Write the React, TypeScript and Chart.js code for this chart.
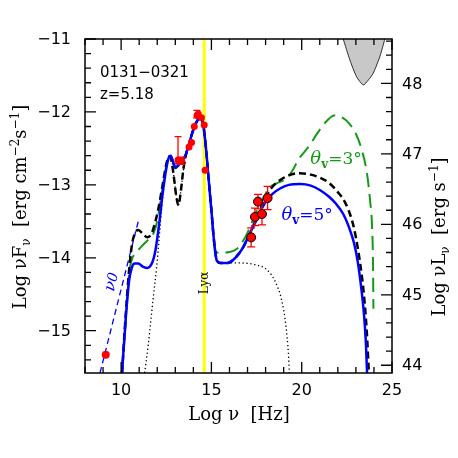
import React, { useEffect, useRef } from 'react';
import { Chart, registerables } from 'chart.js';
Chart.register(...registerables);

type P = [number, number];

// axis ranges and ticks
const xRange: P = [8, 25];
const yRange: P = [-15.58, -11];
const y2Range: P = [43.89, 48.63];
const xTicks = [10, 15, 20, 25];
const yTicks = [-11, -12, -13, -14, -15];
const y2Ticks = [44, 45, 46, 47, 48];
const xMinorStep = 1;
const yMinorStep = 0.2;
const fmt = (v: number) => (v < 0 ? '\u2212' + Math.abs(v) : String(v));

// texts
const sourceName = '0131\u22120321';
const redshiftText = 'z=5.18';
const lyaText = 'Ly\u03b1';
const lyaNu = 14.6;

// model curves [log nu, log nuFnu]
const blueModel: P[] = [
  [10.05, -15.58], [10.25, -14.85], [10.45, -14.3], [10.6, -14.13], [10.75, -14.08], [10.95, -14.08],
  [11.2, -14.12], [11.45, -14.14], [11.7, -14.08], [11.9, -13.9], [12.1, -13.55], [12.3, -13.12],
  [12.5, -12.78], [12.65, -12.62], [12.75, -12.6], [12.88, -12.68], [13.0, -12.77], [13.15, -12.74],
  [13.35, -12.67], [13.55, -12.6], [13.75, -12.45], [13.95, -12.28], [14.15, -12.15], [14.35, -12.09],
  [14.45, -12.1], [14.55, -12.18], [14.7, -12.5], [14.85, -12.93], [15.0, -13.35], [15.15, -13.78],
  [15.3, -14.04], [15.5, -14.07], [15.9, -14.07], [16.2, -14.03], [16.5, -13.95], [16.77, -13.85],
  [17.14, -13.66], [17.5, -13.48], [17.8, -13.32], [18.1, -13.2], [18.4, -13.12], [18.8, -13.05],
  [19.3, -13.0], [19.9, -12.99], [20.5, -13.01], [21.0, -13.07], [21.5, -13.16], [21.9, -13.26],
  [22.3, -13.4], [22.6, -13.57], [22.9, -13.8], [23.1, -14.05], [23.3, -14.42], [23.45, -14.78],
  [23.55, -15.15], [23.62, -15.58],
];
const blackModel: P[] = [
  [10.05, -15.58], [10.25, -14.8], [10.45, -14.15], [10.6, -13.82], [10.75, -13.67], [10.95, -13.62],
  [11.2, -13.67], [11.45, -13.72], [11.7, -13.66], [11.9, -13.5], [12.1, -13.28], [12.3, -13.0],
  [12.5, -12.72], [12.65, -12.61], [12.75, -12.63], [12.9, -12.85], [13.05, -13.15], [13.17, -13.28],
  [13.3, -13.1], [13.45, -12.78], [13.6, -12.58], [13.75, -12.45], [13.95, -12.28], [14.15, -12.15],
  [14.35, -12.09], [14.45, -12.1], [14.55, -12.18], [14.7, -12.5], [14.85, -12.93], [15.0, -13.35],
  [15.15, -13.78], [15.3, -14.04], [15.5, -14.07], [15.9, -14.07], [16.2, -14.03], [16.5, -13.95],
  [16.77, -13.85], [17.14, -13.66], [17.5, -13.46], [17.8, -13.28], [18.1, -13.12], [18.4, -13.02],
  [18.9, -12.92], [19.4, -12.86], [19.9, -12.84], [20.5, -12.86], [21.0, -12.9], [21.5, -12.97],
  [22.0, -13.1], [22.4, -13.24], [22.8, -13.5], [23.0, -13.72], [23.25, -14.1], [23.45, -14.52],
  [23.6, -15.0], [23.72, -15.58],
];
const greenModel: P[] = [
  [10.05, -15.58], [10.25, -14.9], [10.45, -14.2], [10.6, -14.02], [10.8, -13.93], [11.0, -13.88],
  [11.3, -13.8], [11.55, -13.74], [11.8, -13.66], [12.0, -13.5], [12.2, -13.2], [12.4, -12.88],
  [12.55, -12.68], [12.7, -12.6], [12.8, -12.63], [12.95, -12.74], [13.15, -12.72], [13.35, -12.66],
  [13.55, -12.6], [13.75, -12.45], [13.95, -12.28], [14.15, -12.15], [14.35, -12.09], [14.45, -12.1],
  [14.55, -12.18], [14.7, -12.5], [14.85, -12.93], [15.0, -13.35], [15.12, -13.75], [15.22, -13.92],
  [15.5, -13.93], [16.0, -13.92], [16.4, -13.88], [16.8, -13.75], [17.1, -13.6], [17.5, -13.36],
  [17.9, -13.17], [18.2, -13.04], [18.7, -12.97], [19.1, -12.92], [19.5, -12.8], [19.8, -12.66],
  [20.4, -12.47], [20.9, -12.28], [21.4, -12.12], [21.8, -12.05], [22.2, -12.07], [22.6, -12.15],
  [23.0, -12.3], [23.3, -12.5], [23.6, -12.82], [23.78, -13.2], [23.9, -13.6], [23.95, -14.1],
  [23.97, -14.7],
];
const thermalModel: P[] = [
  [11.3, -15.58], [11.5, -15.2], [11.65, -14.85], [11.8, -14.5], [11.97, -14.12], [12.1, -13.75],
  [12.25, -13.3], [12.4, -12.95], [12.55, -12.7], [12.7, -12.61], [12.8, -12.65], [12.95, -12.95],
  [13.08, -13.2], [13.17, -13.28], [13.3, -13.1], [13.45, -12.8], [13.6, -12.6], [13.75, -12.46],
  [13.95, -12.28], [14.15, -12.15], [14.35, -12.09], [14.45, -12.1], [14.55, -12.18], [14.7, -12.5],
  [14.85, -12.93], [15.0, -13.35], [15.15, -13.78], [15.3, -14.05], [15.6, -14.07], [16.5, -14.07],
  [17.5, -14.1], [18.06, -14.16], [18.52, -14.32], [18.89, -14.58], [19.13, -14.94], [19.26, -15.3],
  [19.32, -15.58],
];
const nu0Line: P[] = [[8.83, -15.58], [10.95, -13.5]];
const sensitivityBowl: P[] = [
  [22.2, -10.9], [22.3, -11.0], [22.67, -11.29], [23.04, -11.52], [23.41, -11.63], [23.7, -11.56],
  [23.96, -11.47], [24.33, -11.24], [24.6, -11.0], [24.66, -10.9],
];

// data points
const radioPoints: P[] = [[9.15, -15.33]];
const opticalPoints: P[] = [
  [13.15, -12.66], [13.35, -12.67], [13.76, -12.48], [13.9, -12.42], [14.05, -12.2],
  [14.2, -12.05], [14.27, -12.03], [14.45, -12.08], [14.6, -12.18], [14.65, -12.8],
];
const opticalErrUp = [0.32, 0.05, 0, 0, 0, 0.07, 0, 0, 0, 0];
const opticalErrDown = [0.05, 0.05, 0, 0, 0, 0.03, 0, 0, 0, 0];
const xrayPoints: P[] = [[17.2, -13.72], [17.41, -13.44], [17.58, -13.23], [17.8, -13.4], [18.11, -13.18]];
const xrayErr = [0.13, 0.12, 0.1, 0.15, 0.16];

// annotation anchors (data coords)
const theta3At: P = [21.9, -12.63];
const theta5At: P = [20.3, -13.4];
const nu0At: P = [9.44, -14.33];

const GREEN = '#159a15';
const BLUE = '#0000ff';
const RED = '#ff0000';

const pts = (a: P[]) => a.map(([x, y]) => ({ x, y }));

type Seg = { text: string; size: number; dy?: number; style?: string };
function drawRich(ctx: CanvasRenderingContext2D, segs: Seg[], family: string, x: number, y: number,
  angle: number, color: string, align: 'center' | 'left' = 'center') {
  ctx.save();
  ctx.translate(x, y);
  ctx.rotate(angle);
  ctx.fillStyle = color;
  ctx.textBaseline = 'alphabetic';
  ctx.textAlign = 'left';
  const widths = segs.map((s) => {
    ctx.font = `${s.style || ''} ${s.size}px ${family}`;
    return ctx.measureText(s.text).width;
  });
  const total = widths.reduce((a, b) => a + b, 0);
  let cx = align === 'center' ? -total / 2 : 0;
  segs.forEach((s, i) => {
    ctx.font = `${s.style || ''} ${s.size}px ${family}`;
    ctx.fillText(s.text, cx, s.dy || 0);
    cx += widths[i];
  });
  ctx.restore();
}

const SERIF = '"DejaVu Serif", serif';
const SANS = '"DejaVu Sans", sans-serif';

const OPT_INDEX = 8;
const XRAY_INDEX = 9;

const decor = {
  id: 'decor',
  beforeDatasetDraw(chart: any, args: any) {
    const ctx: CanvasRenderingContext2D = chart.ctx;
    const xs = chart.scales.x, ys = chart.scales.y;
    if (args.index === OPT_INDEX || args.index === XRAY_INDEX) {
      const isX = args.index === XRAY_INDEX;
      const list = isX ? xrayPoints : opticalPoints;
      ctx.save();
      ctx.strokeStyle = RED;
      ctx.lineWidth = 1.3;
      list.forEach(([nx, ny], i) => {
        const up = isX ? xrayErr[i] : opticalErrUp[i];
        const dn = isX ? xrayErr[i] : opticalErrDown[i];
        if (!up && !dn) return;
        const px = xs.getPixelForValue(nx);
        const y1 = ys.getPixelForValue(ny + up);
        const y2 = ys.getPixelForValue(ny - dn);
        const cap = isX ? 4 : 3.5;
        ctx.beginPath();
        ctx.moveTo(px, y1); ctx.lineTo(px, y2);
        ctx.moveTo(px - cap, y1); ctx.lineTo(px + cap, y1);
        ctx.moveTo(px - cap, y2); ctx.lineTo(px + cap, y2);
        ctx.stroke();
      });
      ctx.restore();
    }
  },
  afterDraw(chart: any) {
    const ctx: CanvasRenderingContext2D = chart.ctx;
    const a = chart.chartArea;
    const xs = chart.scales.x, ys = chart.scales.y, y2s = chart.scales.y2;
    ctx.save();
    // frame
    ctx.strokeStyle = '#000';
    ctx.lineWidth = 1.5;
    ctx.strokeRect(a.left, a.top, a.right - a.left, a.bottom - a.top);
    ctx.lineWidth = 1.3;
    ctx.beginPath();
    for (let v = Math.ceil(xRange[0]); v <= xRange[1]; v += xMinorStep) {
      const px = xs.getPixelForValue(v);
      const len = xTicks.includes(v) ? 11 : 6;
      ctx.moveTo(px, a.bottom); ctx.lineTo(px, a.bottom - len);
      ctx.moveTo(px, a.top); ctx.lineTo(px, a.top + len);
    }
    for (let k = 0; ; k++) {
      const v = yRange[1] - k * yMinorStep;
      if (v < yRange[0]) break;
      const py = ys.getPixelForValue(v);
      const len = k % 5 === 0 ? 11 : 6;
      ctx.moveTo(a.left, py); ctx.lineTo(a.left + len, py);
    }
    for (let k = 0; ; k++) {
      const v = y2Ticks[0] + k * yMinorStep;
      if (v > y2Range[1]) break;
      const py = y2s.getPixelForValue(v);
      const len = k % 5 === 0 ? 11 : 6;
      ctx.moveTo(a.right, py); ctx.lineTo(a.right - len, py);
    }
    ctx.stroke();

    // tick labels
    ctx.fillStyle = '#000';
    ctx.font = `16px ${SANS}`;
    ctx.textBaseline = 'middle';
    ctx.textAlign = 'right';
    yTicks.forEach((v) => ctx.fillText(fmt(v), a.left - 14, ys.getPixelForValue(v) + 1));
    ctx.textAlign = 'left';
    y2Ticks.forEach((v) => ctx.fillText(fmt(v), a.right + 10, y2s.getPixelForValue(v) + 1));
    ctx.textAlign = 'center';
    xTicks.forEach((v) => ctx.fillText(fmt(v), xs.getPixelForValue(v), a.bottom + 18));

    // axis titles
    drawRich(ctx, [
      { text: 'Log ', size: 18 }, { text: '\u03bd', size: 18 }, { text: '  [Hz]', size: 18 },
    ], SERIF, 239, a.bottom + 47, 0, '#000');
    drawRich(ctx, [
      { text: 'Log \u03bdF', size: 18 }, { text: '\u03bd', size: 12, dy: 4 },
      { text: '  [erg cm', size: 18 }, { text: '\u22122', size: 12, dy: -7 },
      { text: 's', size: 18 }, { text: '\u22121', size: 12, dy: -7 }, { text: ']', size: 18 },
    ], SERIF, 26, 207, -Math.PI / 2, '#000');
    drawRich(ctx, [
      { text: 'Log \u03bdL', size: 18 }, { text: '\u03bd', size: 12, dy: 4 },
      { text: '  [erg s', size: 18 }, { text: '\u22121', size: 12, dy: -7 }, { text: ']', size: 18 },
    ], SERIF, 445, 237, -Math.PI / 2, '#000');

    // source labels
    ctx.font = `15px ${SANS}`;
    ctx.textAlign = 'left';
    ctx.textBaseline = 'alphabetic';
    ctx.fillText(sourceName, a.left + 15, 77);
    ctx.fillText(redshiftText, a.left + 15, 99);

    // Ly alpha
    drawRich(ctx, [{ text: lyaText, size: 12 }], SERIF,
      xs.getPixelForValue(lyaNu) + 4, 283, -Math.PI / 2, '#000');

    // theta labels
    const th = (at: P, val: string, color: string) => drawRich(ctx, [
      { text: '\u03b8', size: 18, style: 'italic' }, { text: 'v', size: 12, dy: 4, style: 'bold' },
      { text: '=' + val + '\u00b0', size: 17 },
    ], SERIF, xs.getPixelForValue(at[0]), ys.getPixelForValue(at[1]) + 6, 0, color);
    th(theta3At, '3', GREEN);
    th(theta5At, '5', BLUE);

    // nu0 label along the dashed line
    const p1x = xs.getPixelForValue(nu0Line[0][0]), p1y = ys.getPixelForValue(nu0Line[0][1]);
    const p2x = xs.getPixelForValue(nu0Line[1][0]), p2y = ys.getPixelForValue(nu0Line[1][1]);
    const ang = Math.atan2(p2y - p1y, p2x - p1x);
    drawRich(ctx, [{ text: '\u03bd', size: 16, style: 'italic' }, { text: '0', size: 14, style: 'italic' }],
      SERIF, xs.getPixelForValue(nu0At[0]) + 5, ys.getPixelForValue(nu0At[1]) + 1, ang, BLUE);
    ctx.restore();
  },
};

export default function App() {
  const ref = useRef<HTMLCanvasElement>(null);
  useEffect(() => {
    if (!ref.current) return;
    const line = (data: P[], color: string, width: number, dash: number[], order: number, extra: any = {}) => ({
      data: pts(data), showLine: true, borderColor: color, borderWidth: width, borderDash: dash,
      pointRadius: 0, cubicInterpolationMode: 'monotone', fill: false, order, ...extra,
    });
    const chart = new Chart(ref.current, {
      type: 'scatter',
      data: {
        datasets: [
          line(sensitivityBowl, '#000', 0.8, [], 20, { fill: 'end', backgroundColor: '#c8c8c8', cubicInterpolationMode: 'default', tension: 0.2 }),
          line([[lyaNu, yRange[0]], [lyaNu, yRange[1]]], '#ffff00', 3, [], 19, { cubicInterpolationMode: 'default' }),
          line(thermalModel, '#000', 1.3, [1.3, 2.6], 18),
          line(nu0Line, BLUE, 1.3, [6, 4], 17, { cubicInterpolationMode: 'default' }),
          line(greenModel, GREEN, 2, [14, 7], 16),
          line(blackModel, '#000', 2.5, [7, 4], 15),
          line(blueModel, BLUE, 2.5, [], 14),
          { data: pts(radioPoints), pointRadius: 4, pointBackgroundColor: RED, pointBorderWidth: 0, order: 3 },
          { data: pts(opticalPoints), pointRadius: 3.5, pointBackgroundColor: RED, pointBorderWidth: 0, order: 2 },
          { data: pts(xrayPoints), pointRadius: 4.5, pointBackgroundColor: RED, pointBorderColor: '#000', pointBorderWidth: 1, order: 1 },
        ] as any,
      },
      options: {
        responsive: false,
        animation: false,
        devicePixelRatio: 1,
        events: [],
        layout: { padding: { left: 85, right: 66, top: 39, bottom: 85 } },
        scales: {
          x: { type: 'linear', min: xRange[0], max: xRange[1], display: false },
          y: { type: 'linear', min: yRange[0], max: yRange[1], display: false },
          y2: { type: 'linear', position: 'right', min: y2Range[0], max: y2Range[1], display: false },
        },
        plugins: { legend: { display: false }, tooltip: { enabled: false } },
      } as any,
      plugins: [decor],
    });
    return () => chart.destroy();
  }, []);
  return (
    <div style={{ position: 'absolute', left: 0, top: 0, width: 458, height: 458, background: '#fff' }}>
      <canvas ref={ref} width={458} height={458} style={{ display: 'block' }} />
    </div>
  );
}
